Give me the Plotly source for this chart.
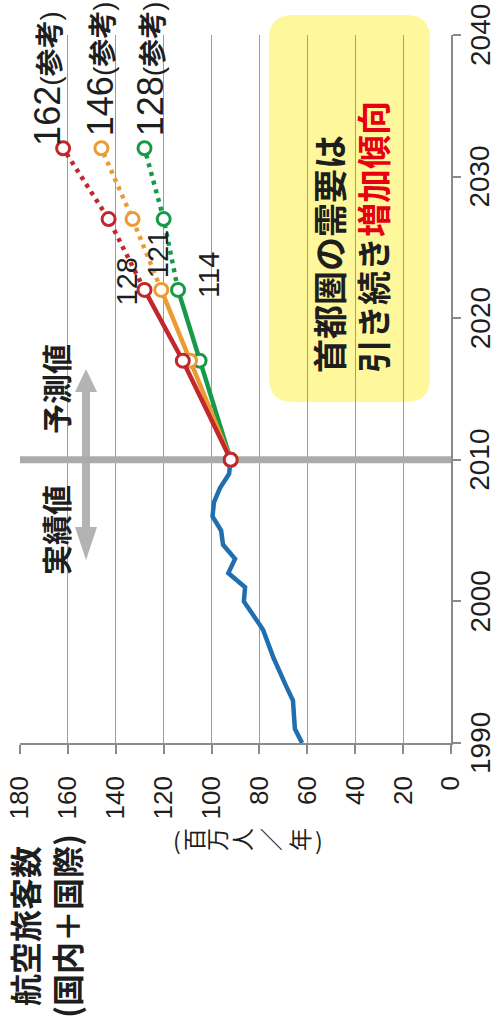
import plotly.graph_objects as go

# ---- data -------------------------------------------------------------
years_actual = list(range(1990, 2011))
passengers_actual = [62.2, 65.2, 65.6, 66.0, 68.8, 71.7, 74.1, 76.3, 78.5, 82.5,
                     86.5, 86.0, 93.0, 90.2, 95.2, 96.0, 99.6, 99.0, 96.5, 92.7, 92.0]

years_forecast = [2010, 2017, 2022]
years_reference = [2022, 2027, 2032]

high_forecast = [92, 112, 128]
high_reference = [128, 143, 162]
mid_forecast = [92, 109, 121]
mid_reference = [121, 133, 146]
low_forecast = [92, 105, 114]
low_reference = [114, 120, 128]

value_ticks = [0, 20, 40, 60, 80, 100, 120, 140, 160, 180]
year_ticks = [1990, 2000, 2010, 2020, 2030, 2040]

# ---- geometry helpers (pixel -> paper) ---------------------------------
W, H = 497, 1028
ML, MR, MT, MB = 20, 46, 35, 285
PW, PH = W - ML - MR, H - MT - MB


def px(x):
    return (x - ML) / PW


def py(y):
    return (H - MB - y) / PH


BLUE = "#1f6fb0"
RED = "#c1272d"
ORANGE = "#ec9b32"
GREEN = "#179a48"
GRID = "#9c9c9c"
TXT = "#1e1e1e"
LATIN = "Liberation Sans, Arial, Noto Sans CJK JP"
CJK = "Noto Sans CJK JP"

fig = go.Figure()

fig.add_trace(go.Scatter(x=passengers_actual, y=years_actual, mode="lines",
                         line=dict(color=BLUE, width=4.5), hoverinfo="skip"))

scenarios = [
    (low_forecast, low_reference, GREEN),
    (mid_forecast, mid_reference, ORANGE),
    (high_forecast, high_reference, RED),
]
for fc, ref, col in scenarios:
    fig.add_trace(go.Scatter(x=fc, y=years_forecast, mode="lines",
                             line=dict(color=col, width=4.5)))
    fig.add_trace(go.Scatter(x=ref, y=years_reference, mode="lines",
                             line=dict(color=col, width=4.5, dash="4px,5px")))
    fig.add_trace(go.Scatter(x=fc + ref[1:], y=years_forecast + years_reference[1:],
                             mode="markers",
                             marker=dict(symbol="circle", size=13, color="white",
                                         line=dict(color=col, width=3))))

# ---- shapes -----------------------------------------------------------
shapes = []

# yellow rounded message box
bx0, bx1, by0, by1, r = 269, 430, 15, 402, 24
rx, ry = r / PW, r / PH
X0, X1, Y0, Y1 = px(bx0), px(bx1), py(by1), py(by0)
box_path = (f"M {X0 + rx},{Y0} L {X1 - rx},{Y0} Q {X1},{Y0} {X1},{Y0 + ry} "
            f"L {X1},{Y1 - ry} Q {X1},{Y1} {X1 - rx},{Y1} "
            f"L {X0 + rx},{Y1} Q {X0},{Y1} {X0},{Y1 - ry} "
            f"L {X0},{Y0 + ry} Q {X0},{Y0} {X0 + rx},{Y0} Z")
shapes.append(dict(type="path", xref="paper", yref="paper", path=box_path,
                   fillcolor="#fff79c", line=dict(width=0), layer="between"))

# boundary between actual values and forecasts
shapes.append(dict(type="line", xref="x", yref="y", x0=181, x1=0, y0=2010, y1=2010,
                   line=dict(color="#ababab", width=7), layer="between"))

# double-headed arrow
ax, tip_t, base_t, base_b, tip_b = 86, 369, 392, 527, 560
hw, sw = 11, 4
pts = [(ax, tip_t), (ax + hw, base_t), (ax + sw, base_t), (ax + sw, base_b),
       (ax + hw, base_b), (ax, tip_b), (ax - hw, base_b), (ax - sw, base_b),
       (ax - sw, base_t), (ax - hw, base_t)]
arrow_path = "M " + " L ".join(f"{px(a)},{py(b)}" for a, b in pts) + " Z"
shapes.append(dict(type="path", xref="paper", yref="paper", path=arrow_path,
                   fillcolor="#b3b3b3", line=dict(width=0), layer="between"))

# ---- annotations --------------------------------------------------------
ann = []


def note(text, x, y, size, family=CJK, color=TXT, align="center", **kw):
    d = dict(text=text, xref="paper", yref="paper", x=px(x), y=py(y),
             xanchor="center", yanchor="middle", showarrow=False, textangle=-90,
             align=align, font=dict(family=family, size=size, color=color))
    d.update(kw)
    ann.append(d)


note("<b>航空旅客数</b><br><b>(国内＋国際)</b>", 45, 926, 32)
note("<b>首都圏の需要は</b><br><b>引き続き<span style='color:#e60012'>増加傾向</span></b>",
     350, 237, 34, align="left")
note("<b>予測値</b>", 55, 389, 30)
note("<b>実績値</b>", 55, 530, 30)

# unit written vertically: one glyph per annotation
unit_chars = ["(", "百", "万", "人", "／", "年", ")"]
unit_x = [177, 193, 216, 241, 270, 299, 319]
for ch, cx in zip(unit_chars, unit_x):
    note(ch, cx, 840, 23, textangle=0 if ch in "()" else -90)

# year labels on the right-hand axis
for yr in year_ticks:
    ann.append(dict(text=str(yr), x=1, y=yr, xref="paper", yref="y", showarrow=False,
                    textangle=-90, xanchor="center", yanchor="middle", xshift=29,
                    borderpad=0,
                    font=dict(family=LATIN, size=28, color=TXT)))


# value labels tied to the data points
def point_label(text, xv, yv, size, xshift, yshift, yanchor="middle"):
    ann.append(dict(text=text, x=xv, y=yv, xref="x", yref="y", showarrow=False,
                    textangle=-90, xanchor="center", yanchor=yanchor,
                    xshift=xshift, yshift=yshift,
                    font=dict(family=LATIN, size=size, color=TXT)))


ref_suffix = "<span style='font-size:28px'>(<b>参考</b>)</span>"
point_label(f"{high_reference[-1]}{ref_suffix}", high_reference[-1], 2032, 36, -15, 0, "bottom")
point_label(f"{mid_reference[-1]}{ref_suffix}", mid_reference[-1], 2032, 36, -1, 10, "bottom")
point_label(f"{low_reference[-1]}{ref_suffix}", low_reference[-1], 2032, 36, 6, 10, "bottom")
point_label(str(high_forecast[-1]), high_forecast[-1], 2022, 29, -18, 8)
point_label(str(mid_forecast[-1]), mid_forecast[-1], 2022, 29, -3, 36)
point_label(str(low_forecast[-1]), low_forecast[-1], 2022, 29, 31, 15)

fig.update_layout(
    width=W, height=H, margin=dict(l=ML, r=MR, t=MT, b=MB, autoexpand=False),
    plot_bgcolor="white", paper_bgcolor="white", showlegend=False,
    shapes=shapes, annotations=ann,
    xaxis=dict(range=[180, 0], tickvals=value_ticks, ticktext=[str(v) for v in value_ticks],
               tickangle=-90, showgrid=True, gridcolor=GRID, gridwidth=1.3,
               showline=True, linecolor="#8a8a8a", linewidth=1.5, zeroline=False,
               ticks="outside", ticklen=9, tickcolor="#8a8a8a", tickwidth=1.5,
               ticklabelstandoff=12, automargin=False,
               tickfont=dict(family=LATIN, size=26, color=TXT)),
    yaxis=dict(range=[1990, 2040], side="right", tickvals=year_ticks,
               showticklabels=False, showgrid=False, zeroline=False,
               showline=True, linecolor="#8a8a8a", linewidth=1.5,
               ticks="outside", ticklen=8, tickcolor="#8a8a8a", tickwidth=1.5,
               automargin=False),
)

fig.write_html("out.html")
